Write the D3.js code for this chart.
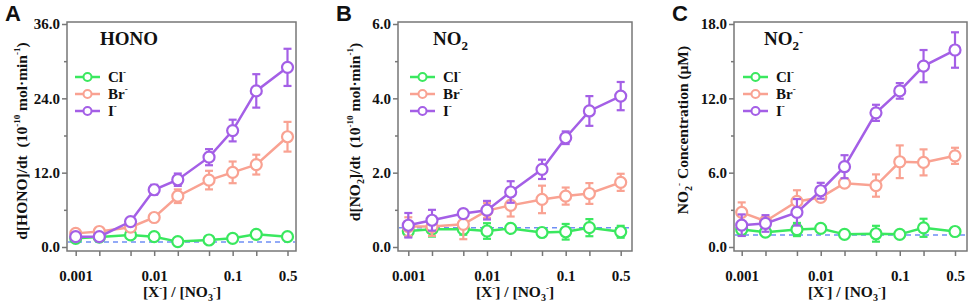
<!DOCTYPE html>
<html>
<head>
<meta charset="utf-8">
<script src="https://cdn.jsdelivr.net/npm/d3@7/dist/d3.min.js"></script>
<style>
  body { margin: 0; background: #fff; }
  svg text { font-family: "Liberation Serif", "Times New Roman", serif; font-weight: bold; fill: #111; }
  .axis path, .axis line { stroke: #777; stroke-width: 1.5; }
  .axis text { font-size: 15px; }
</style>
</head>
<body>
<div id="chart"></div>
<script>
// x values: [X-]/[NO3-]
const ratios = [0.001, 0.002, 0.005, 0.01, 0.02, 0.05, 0.1, 0.2, 0.5];
const xMajor = [0.001, 0.01, 0.1, 0.5];
const xMinor = [0.002, 0.005, 0.02, 0.05, 0.2];

// panel A: HONO
const honoCl = [1.4, 1.6, 1.95, 1.67, 0.87, 1.13, 1.4, 2.05, 1.67];
const honoClErr = [0.3, 0.3, 0.3, 0.3, 0.2, 0.3, 0.3, 0.3, 0.3];
const honoBr = [2.2, 2.5, 3.2, 4.76, 8.2, 10.8, 12.05, 13.3, 17.8];
const honoBrErr = [0.3, 0.3, 0.4, 0.5, 1.1, 1.5, 1.75, 1.6, 2.4];
const honoI = [1.67, 1.67, 4.1, 9.24, 10.86, 14.5, 18.8, 25.2, 29.0];
const honoIErr = [0.3, 0.3, 0.4, 0.8, 1.0, 1.3, 1.75, 2.7, 3.0];
const honoBlank = 0.8;

// panel B: NO2
const no2Cl = [0.43, 0.48, 0.48, 0.43, 0.5, 0.39, 0.41, 0.52, 0.41];
const no2ClErr = [0.15, 0.2, 0.15, 0.21, 0.05, 0.05, 0.21, 0.23, 0.16];
const no2Br = [0.55, 0.55, 0.61, 0.98, 1.12, 1.28, 1.37, 1.44, 1.74];
const no2BrErr = [0.25, 0.25, 0.4, 0.2, 0.3, 0.37, 0.23, 0.28, 0.23];
const no2I = [0.585, 0.72, 0.9, 0.99, 1.48, 2.09, 2.94, 3.66, 4.06];
const no2IErr = [0.33, 0.28, 0.05, 0.25, 0.29, 0.26, 0.17, 0.4, 0.38];
const no2Blank = 0.52;

// panel C: NO2- concentration
const nitCl = [1.41, 1.2, 1.41, 1.5, 1.02, 1.07, 1.02, 1.55, 1.25];
const nitClErr = [0.5, 0.2, 0.53, 0.2, 0.1, 0.64, 0.1, 0.73, 0.1];
const nitBr = [2.8, 2.08, 3.68, 4.0, 5.15, 4.96, 6.88, 6.83, 7.36];
const nitBrErr = [0.8, 0.2, 0.9, 0.3, 0.3, 0.9, 1.32, 1.05, 0.65];
const nitI = [1.76, 1.9, 2.8, 4.54, 6.48, 10.83, 12.6, 14.6, 15.9];
const nitIErr = [0.87, 0.67, 1.07, 0.64, 0.93, 0.65, 0.63, 1.3, 1.43];
const nitBlank = 0.96;

const colors = { Cl: "#3ae85f", Br: "#f9a292", I: "#a45fe6" };
const blankColor = "#6f8ff5";

const W = 969, H = 305;
const svg = d3.select("#chart").append("svg")
  .attr("width", W).attr("height", H);

const panels = [
  { letter: "A", left: 67, right: 296, x0: 75.7, x1: 287.5, yMax: 36, yStep: 12, title: "HONO",
    series: [[honoCl, honoClErr], [honoBr, honoBrErr], [honoI, honoIErr]], blank: honoBlank,
    labelX: 22, labelY: 141, xLabelCx: 182, titleX: 100, legendDx: 8, ylab: "hono" },
  { letter: "B", left: 398, right: 632, x0: 408.3, x1: 620.7, yMax: 6, yStep: 2, title: "NO2",
    series: [[no2Cl, no2ClErr], [no2Br, no2BrErr], [no2I, no2IErr]], blank: no2Blank,
    labelX: 355, labelY: 132, xLabelCx: 515, titleX: 433, legendDx: 12, ylab: "no2" },
  { letter: "C", left: 734, right: 967, x0: 741.7, x1: 955, yMax: 18, yStep: 6, title: "NO2-",
    series: [[nitCl, nitClErr], [nitBr, nitBrErr], [nitI, nitIErr]], blank: nitBlank,
    labelX: 683, labelY: 130, xLabelCx: 847, titleX: 764, legendDx: 9, ylab: "nit" },
];
const names = ["Cl", "Br", "I"];
const frameTop = 22, frameBottom = 251;

panels.forEach(p => {
  const x = d3.scaleLog().domain([0.001, 0.5]).range([p.x0, p.x1]);
  const y = d3.scaleLinear().domain([0, p.yMax]).range([247, 24]);
  const g = svg.append("g");

  // axes
  const yMaj = d3.range(0, p.yMax + 0.001, p.yStep);
  const yMin = d3.range(p.yStep / 2, p.yMax, p.yStep);
  g.append("g").attr("class", "axis").attr("transform", `translate(${p.left},0)`)
    .call(d3.axisLeft(y).tickValues(yMaj).tickSize(5).tickPadding(2).tickFormat(d3.format(".1f")))
    .call(a => a.select(".domain").remove());
  g.append("g").attr("class", "axis").attr("transform", `translate(${p.left},0)`)
    .call(d3.axisLeft(y).tickValues(yMin).tickSize(3).tickFormat(""))
    .call(a => a.select(".domain").remove());
  g.append("g").attr("class", "axis").attr("transform", `translate(0,${frameBottom})`)
    .call(d3.axisBottom(x).tickValues(xMajor).tickSize(5).tickPadding(14).tickFormat(d => String(d)))
    .call(a => a.select(".domain").remove());
  g.append("g").attr("class", "axis").attr("transform", `translate(0,${frameBottom})`)
    .call(d3.axisBottom(x).tickValues(xMinor).tickSize(5).tickFormat(""))
    .call(a => a.select(".domain").remove());

  // frame
  g.append("rect").attr("x", p.left).attr("y", frameTop)
    .attr("width", p.right - p.left).attr("height", frameBottom - frameTop)
    .attr("fill", "none").attr("stroke", "#777").attr("stroke-width", 1.5);

  // blank dashed line
  g.append("line").attr("x1", p.left + 1).attr("x2", p.right - 1)
    .attr("y1", y(p.blank)).attr("y2", y(p.blank))
    .attr("stroke", blankColor).attr("stroke-width", 1.5).attr("stroke-dasharray", "5,4");

  // series
  p.series.forEach(([vals, errs], si) => {
    const c = colors[names[si]];
    const pts = ratios.map((r, i) => ({ r, v: vals[i], e: errs[i] }));
    g.append("path").datum(pts)
      .attr("d", d3.line().x(d => x(d.r)).y(d => y(d.v)))
      .attr("fill", "none").attr("stroke", c).attr("stroke-width", 2.5);
    const eb = g.append("g").attr("stroke", c).attr("stroke-width", 2.2);
    pts.forEach(d => {
      const cx = x(d.r), y1 = y(d.v + d.e), y2 = y(d.v - d.e);
      eb.append("line").attr("x1", cx).attr("x2", cx).attr("y1", y1).attr("y2", y2);
      eb.append("line").attr("x1", cx - 4).attr("x2", cx + 4).attr("y1", y1).attr("y2", y1);
      eb.append("line").attr("x1", cx - 4).attr("x2", cx + 4).attr("y1", y2).attr("y2", y2);
    });
    g.append("g").selectAll("circle").data(pts).join("circle")
      .attr("cx", d => x(d.r)).attr("cy", d => y(d.v)).attr("r", 5.5)
      .attr("fill", "#fff").attr("stroke", c).attr("stroke-width", 2.2);
  });

  // legend
  names.forEach((n, i) => {
    const ly = 77 + i * 17;
    const lx = p.left + p.legendDx;
    g.append("line").attr("x1", lx).attr("x2", lx + 25).attr("y1", ly).attr("y2", ly)
      .attr("stroke", colors[n]).attr("stroke-width", 2.5);
    g.append("circle").attr("cx", lx + 12.5).attr("cy", ly).attr("r", 4)
      .attr("fill", "#fff").attr("stroke", colors[n]).attr("stroke-width", 2);
    const t = g.append("text").attr("x", lx + 33).attr("y", ly + 5).attr("font-size", 15);
    t.append("tspan").text(n);
    t.append("tspan").attr("dy", -7).attr("font-size", 9).text("-");
  });

  // title
  const tt = g.append("text").attr("x", p.titleX).attr("y", 45).attr("font-size", 19);
  if (p.title === "HONO") tt.text("HONO");
  else {
    tt.append("tspan").text("NO");
    tt.append("tspan").attr("dy", 5).attr("font-size", 13).text("2");
    if (p.title === "NO2-") tt.append("tspan").attr("dy", -14).attr("font-size", 12).text("-");
  }

  // panel letter
  g.append("text").attr("x", p.left - 62).attr("y", 21)
    .style("font-family", "'Liberation Sans', Arial, sans-serif")
    .attr("font-size", 22).text(p.letter);

  // x label
  const xl = g.append("text").attr("x", p.xLabelCx).attr("y", 297)
    .attr("text-anchor", "middle").attr("font-size", 15.5);
  xl.append("tspan").text("[X");
  xl.append("tspan").attr("dy", -6).attr("font-size", 9).text("-");
  xl.append("tspan").attr("dy", 6).text("] / [NO");
  xl.append("tspan").attr("dy", 4).attr("font-size", 10).text("3");
  xl.append("tspan").attr("dy", -10).attr("font-size", 9).text("-");
  xl.append("tspan").attr("dy", 6).text("]");

  // y label
  const yl = g.append("text")
    .attr("transform", `translate(${p.labelX + 5},${p.labelY}) rotate(-90)`)
    .attr("text-anchor", "middle").attr("font-size", 15.5);
  if (p.ylab === "nit") {
    yl.append("tspan").text("NO");
    yl.append("tspan").attr("dy", 4).attr("font-size", 10).text("2");
    yl.append("tspan").attr("dy", -10).attr("font-size", 9).text("-");
    yl.append("tspan").attr("dy", 6).text(" Concentration (\u03bcM)");
  } else {
    if (p.ylab === "hono") yl.append("tspan").text("d[HONO]/dt");
    else {
      yl.append("tspan").text("d[NO");
      yl.append("tspan").attr("dy", 4).attr("font-size", 10).text("2");
      yl.append("tspan").attr("dy", -4).text("]/dt");
    }
    yl.append("tspan").text("\u00a0\u00a0(10");
    yl.append("tspan").attr("dy", -7).attr("font-size", 9).text("-10");
    yl.append("tspan").attr("dy", 7).text(" mol\u00b7min");
    yl.append("tspan").attr("dy", -7).attr("font-size", 9).text("-1");
    yl.append("tspan").attr("dy", 7).text(")");
  }
});
</script>
</body>
</html>
